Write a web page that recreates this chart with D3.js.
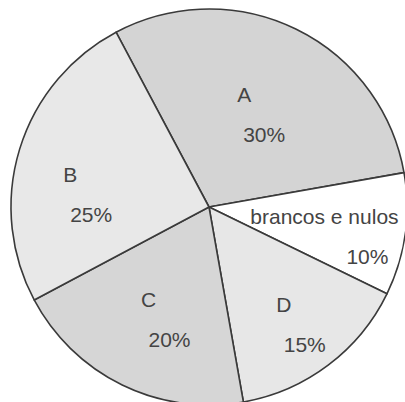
<!DOCTYPE html>
<html>
<head>
<meta charset="utf-8">
<script src="https://cdn.jsdelivr.net/npm/d3@7"></script>
<style>
	html, body { margin: 0; padding: 0; background: #fff; }
	svg { display: block; }
</style>
</head>
<body>
<div id="chart"></div>
<script>
'use strict';

// chart data, clockwise from the top-left boundary
const categories = ['A', 'brancos e nulos', 'D', 'C', 'B'];
const shares = [30, 10, 15, 20, 25];
const fills = ['#d4d4d4', '#ffffff', '#e7e7e7', '#d6d6d6', '#e8e8e8'];

// label placement: distance from centre, angle nudge (deg), second line x shift
const labelRadius = [103, 140, 145, 123, 129];
const labelNudge = [0, 4, 1, -2, -11];
const secondShift = [20, 43, 21, 21, 21];

const width = 405;
const height = 402;
const cx = 209;
const cy = 207;
const radius = 198;

const svg = d3.select('#chart').append('svg')
	.attr('width', width)
	.attr('height', height);

const g = svg.append('g')
	.attr('transform', `translate(${cx}, ${cy})`);

const deg = Math.PI / 180;
const start = -28 * deg;

const pie = d3.pie()
	.sort(null)
	.value(d => d.value)
	.startAngle(start)
	.endAngle(start + 2 * Math.PI);

const data = categories.map((c, i) => ({name: c, value: shares[i], i: i}));
const arcs = pie(data);

const arc = d3.arc().innerRadius(0).outerRadius(radius);

g.selectAll('path.slice')
	.data(arcs)
	.enter()
	.append('path')
	.attr('class', 'slice')
	.attr('d', arc)
	.attr('fill', d => fills[d.data.i])
	.attr('stroke', '#3a3a3a')
	.attr('stroke-width', 1.6)
	.attr('stroke-linejoin', 'round');

const label = g.selectAll('g.label')
	.data(arcs)
	.enter()
	.append('g')
	.attr('class', 'label')
	.attr('transform', function(d) {
		const i = d.data.i;
		const a = (d.startAngle + d.endAngle) / 2 + labelNudge[i] * deg;
		const r = labelRadius[i];
		return `translate(${r * Math.sin(a)}, ${-r * Math.cos(a)})`;
	});

label.append('text')
	.text(d => d.data.name)
	.attr('x', d => -secondShift[d.data.i] / 2)
	.attr('y', -12)
	.attr('text-anchor', 'middle');

label.append('text')
	.text(d => `${d.data.value}%`)
	.attr('x', d => secondShift[d.data.i] / 2)
	.attr('y', 28)
	.attr('text-anchor', 'middle');

label.selectAll('text')
	.attr('font-family', '"Liberation Sans", Arial, sans-serif')
	.attr('font-size', 21)
	.attr('fill', '#444');
</script>
</body>
</html>
